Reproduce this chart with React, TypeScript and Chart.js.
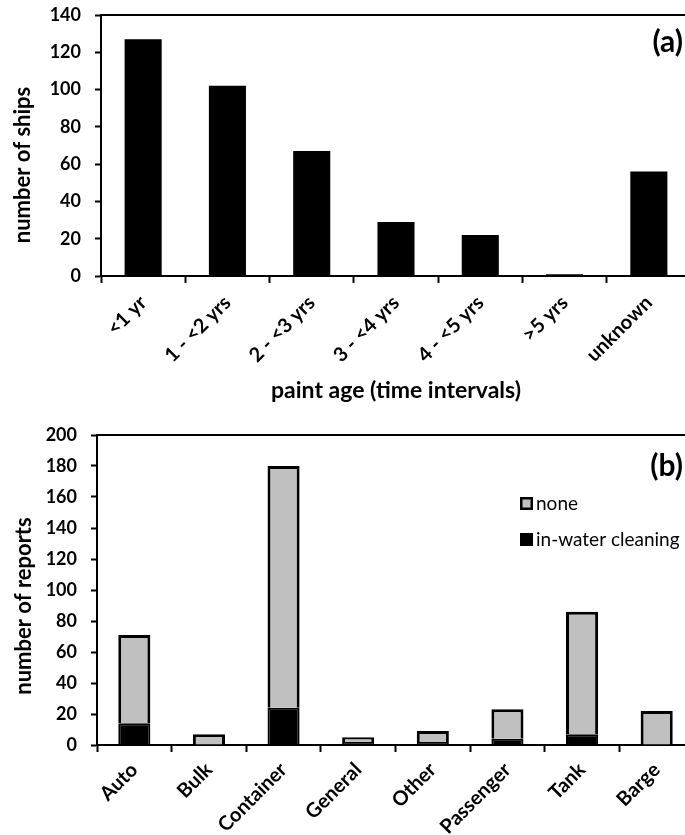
import React, { useEffect, useRef } from 'react';
import { Chart, registerables } from 'chart.js';

Chart.register(...registerables);

// ---------- data ----------
const ageCategories = ['<1 yr', '1 - <2 yrs', '2 - <3 yrs', '3 - <4 yrs', '4 - <5 yrs', '>5 yrs', 'unknown'];
const shipCounts = [127, 102, 67, 29, 22, 1, 56];

const shipTypes = ['Auto', 'Bulk', 'Container', 'General', 'Other', 'Passenger', 'Tank', 'Barge'];
const inWaterCleaning = [14, 0, 24, 2, 2, 4, 7, 0];
const noCleaning = [57, 7, 156, 3, 7, 19, 79, 22];

const FONT = 'Lato, "DejaVu Sans", sans-serif';
const GREY = '#c0c0c0';

// top border of the plot area (the right side lies outside the picture)
const framePlugin = {
  id: 'frame',
  afterDraw(chart: any) {
    const { ctx, chartArea: a } = chart;
    ctx.save();
    ctx.strokeStyle = '#000';
    ctx.lineWidth = 2;
    ctx.beginPath();
    ctx.moveTo(a.left - 1, a.top);
    ctx.lineTo(a.right + 40, a.top);
    ctx.stroke();
    ctx.restore();
  },
};

const decorPlugin = {
  id: 'decor',
  afterDraw(chart: any, _args: any, opts: any) {
    const { ctx, chartArea: a } = chart;
    ctx.save();
    if (opts.panel) {
      ctx.font = `bold 30px ${FONT}`;
      ctx.fillStyle = '#000';
      ctx.textAlign = 'right';
      ctx.textBaseline = 'middle';
      ctx.fillText(opts.panel, opts.panelX, a.top + opts.panelDy);
    }
    if (opts.yTitle) {
      ctx.translate(opts.yTitleX, a.top + opts.yTitleDy);
      ctx.rotate(-Math.PI / 2);
      ctx.font = `bold 22px ${FONT}`;
      ctx.fillStyle = '#000';
      ctx.textAlign = 'center';
      ctx.textBaseline = 'middle';
      ctx.fillText(opts.yTitle, 0, 0);
    }
    ctx.restore();
  },
};

const legendPlugin = {
  id: 'customLegend',
  afterDraw(chart: any, _args: any, opts: any) {
    if (!opts.items) return;
    const { ctx, chartArea: a } = chart;
    ctx.save();
    const ds = chart.data.datasets;
    opts.items.forEach((idx: number, i: number) => {
      const d = ds[idx];
      const y = a.top + opts.dy + i * opts.gap;
      ctx.fillStyle = d.backgroundColor;
      ctx.fillRect(opts.x, y, 13, 13);
      ctx.strokeStyle = '#000';
      ctx.lineWidth = 2.5;
      ctx.strokeRect(opts.x + 1.25, y + 1.25, 10.5, 10.5);
      ctx.font = `19px ${FONT}`;
      ctx.fillStyle = '#000';
      ctx.textAlign = 'left';
      ctx.textBaseline = 'middle';
      ctx.fillText(d.label, opts.x + 16, y + 6.5);
    });
    ctx.restore();
  },
};

const yFit = (w: number) => (s: any) => {
  s.width = w;
  s.paddingTop = 0;
  s.paddingBottom = 0;
};
const xFit = (h: number) => (s: any) => {
  s.height = h;
  s.paddingLeft = 0;
  s.paddingRight = 0;
};

const tickGrid = {
  drawOnChartArea: false,
  drawTicks: true,
  tickColor: '#000',
  tickWidth: 2,
};

function ChartA() {
  const ref = useRef<HTMLCanvasElement>(null);
  useEffect(() => {
    const chart = new Chart(ref.current!, {
      type: 'bar',
      data: {
        labels: ageCategories,
        datasets: [
          {
            label: 'number of ships',
            data: shipCounts,
            backgroundColor: '#000',
            borderWidth: 0,
            categoryPercentage: 1,
            barPercentage: 0.44,
          },
        ],
      },
      plugins: [framePlugin, decorPlugin],
      options: {
        responsive: false,
        animation: false,
        layout: { padding: { top: 15, right: 29, left: 0, bottom: 0 } },
        plugins: {
          legend: { display: false },
          tooltip: { enabled: false },
          decor: {
            panel: '(a)',
            panelX: 683,
            panelDy: 27,
            yTitle: 'number of ships',
            yTitleX: 23,
            yTitleDy: 150,
          },
        } as any,
        scales: {
          x: {
            afterFit: xFit(134),
            grid: { ...tickGrid, offset: true, tickLength: 7 },
            border: { display: true, color: '#000', width: 2 },
            ticks: {
              autoSkip: false,
              minRotation: 45,
              maxRotation: 45,
              padding: 8,
              color: '#000',
              font: { family: FONT, size: 20, weight: 'bold' },
            },
            title: {
              display: true,
              text: 'paint age (time intervals)',
              color: '#000',
              font: { family: FONT, size: 23, weight: 'bold' },
              padding: { top: 4, bottom: 6 },
            },
          },
          y: {
            min: 0,
            max: 140,
            afterFit: yFit(101),
            grid: { ...tickGrid, tickLength: 6 },
            border: { display: true, color: '#000', width: 2 },
            ticks: {
              stepSize: 20,
              padding: 14,
              color: '#000',
              font: { family: FONT, size: 18, weight: 'bold' },
            },
          },
        },
      } as any,
    });
    return () => chart.destroy();
  }, []);
  return <canvas ref={ref} width={720} height={410} style={{ display: 'block' }} />;
}

function ChartB() {
  const ref = useRef<HTMLCanvasElement>(null);
  useEffect(() => {
    const chart = new Chart(ref.current!, {
      type: 'bar',
      data: {
        labels: shipTypes,
        datasets: [
          {
            label: 'in-water cleaning',
            data: inWaterCleaning,
            backgroundColor: '#000',
            borderColor: '#000',
            borderWidth: 2,
            categoryPercentage: 1,
            barPercentage: 0.43,
          },
          {
            label: 'none',
            data: noCleaning,
            backgroundColor: GREY,
            borderColor: '#000',
            borderWidth: 3,
            categoryPercentage: 1,
            barPercentage: 0.43,
          },
        ],
      },
      plugins: [framePlugin, decorPlugin, legendPlugin],
      options: {
        responsive: false,
        animation: false,
        layout: { padding: { top: 23, right: 26, left: 0, bottom: 0 } },
        plugins: {
          legend: { display: false },
          tooltip: { enabled: false },
          decor: {
            panel: '(b)',
            panelX: 683,
            panelDy: 31,
            yTitle: 'number of reports',
            yTitleX: 24,
            yTitleDy: 171,
          },
          customLegend: {
            items: [1, 0],
            x: 520,
            dy: 62,
            gap: 36,
          },
        } as any,
        scales: {
          x: {
            stacked: true,
            afterFit: xFit(90),
            grid: { ...tickGrid, offset: true, tickLength: 7 },
            border: { display: true, color: '#000', width: 2 },
            ticks: {
              autoSkip: false,
              minRotation: 45,
              maxRotation: 45,
              padding: 6,
              color: '#000',
              font: { family: FONT, size: 20, weight: 'bold' },
            },
          },
          y: {
            stacked: true,
            min: 0,
            max: 200,
            afterFit: yFit(97),
            grid: { ...tickGrid, tickLength: 6 },
            border: { display: true, color: '#000', width: 2 },
            ticks: {
              stepSize: 20,
              padding: 14,
              color: '#000',
              font: { family: FONT, size: 18, weight: 'bold' },
            },
          },
        },
      } as any,
    });
    return () => chart.destroy();
  }, []);
  return <canvas ref={ref} width={720} height={423} style={{ display: 'block' }} />;
}

export default function App() {
  return (
    <div
      style={{
        position: 'fixed',
        left: 0,
        top: 0,
        width: 685,
        height: 835,
        overflow: 'hidden',
        background: '#fff',
      }}
    >
      <div style={{ position: 'absolute', left: 0, top: 0 }}>
        <ChartA />
      </div>
      <div style={{ position: 'absolute', left: 0, top: 412 }}>
        <ChartB />
      </div>
    </div>
  );
}
